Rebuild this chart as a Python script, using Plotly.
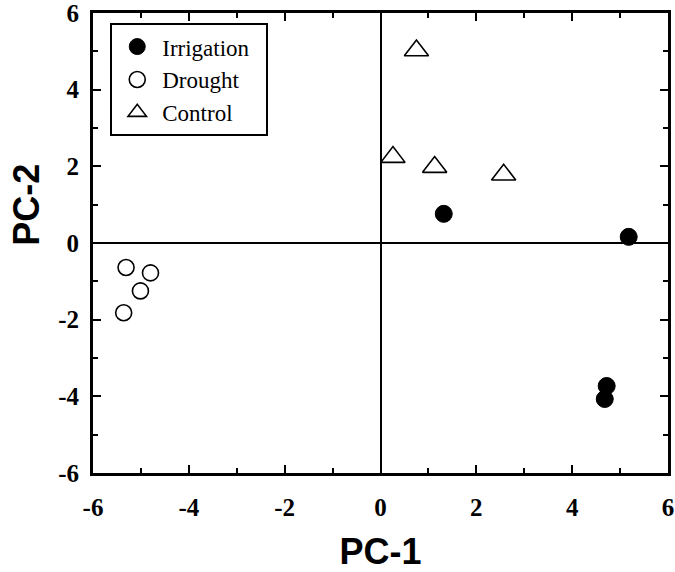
import plotly.graph_objects as go

# PCA scores per treatment
irrigation_pc1 = [1.32, 5.18, 4.72, 4.68]
irrigation_pc2 = [0.76, 0.16, -3.73, -4.07]

drought_pc1 = [-5.31, -4.80, -5.01, -5.36]
drought_pc2 = [-0.64, -0.78, -1.25, -1.82]

control_pc1 = [0.75, 0.26, 1.13, 2.57]
control_pc2 = [5.02, 2.24, 1.98, 1.78]

axis_ticks = [-6, -4, -2, 0, 2, 4, 6]

PAD = "\u00a0\u00a0"  # extra room on the right side of the legend box

fig = go.Figure()

fig.add_trace(go.Scatter(
    x=irrigation_pc1, y=irrigation_pc2, mode="markers", name="Irrigation" + PAD,
    marker=dict(symbol="circle", size=17, color="black", line=dict(color="black", width=1)),
))
fig.add_trace(go.Scatter(
    x=drought_pc1, y=drought_pc2, mode="markers", name="Drought" + PAD,
    marker=dict(symbol="circle", size=16, color="white", line=dict(color="black", width=1.6)),
))
fig.add_trace(go.Scatter(
    x=control_pc1, y=control_pc2, mode="markers", name="Control" + PAD,
    marker=dict(symbol="triangle-up", size=21, color="white", line=dict(color="black", width=1.6)),
))

tick_font = dict(family="Liberation Serif", size=25, color="black", weight="bold")
title_font = dict(family="Liberation Sans", size=36, color="black", weight="bold")

common_axis = dict(
    range=[-6, 6],
    tickvals=axis_ticks,
    ticktext=[str(v) for v in axis_ticks],
    ticks="inside", ticklen=8, tickwidth=2, tickcolor="black",
    minor=dict(ticks="inside", ticklen=5, tickwidth=2, tickcolor="black", dtick=1, tick0=0, showgrid=False),
    showline=True, linewidth=3, linecolor="black", mirror="ticks",
    showgrid=False,
    zeroline=True, zerolinecolor="black", zerolinewidth=2,
    tickfont=tick_font,
    ticklabeloverflow="allow",
    automargin=False,
)

fig.update_xaxes(**common_axis, ticklabelstandoff=10,
                 title=dict(text="PC-1", font=title_font, standoff=22))
fig.update_yaxes(**common_axis, ticklabelstandoff=6)

# y-axis title placed as a rotated annotation, sitting a bit above the axis middle
fig.add_annotation(
    text="PC-2", textangle=-90, showarrow=False,
    xref="paper", yref="paper", x=-0.1148, y=0.583,
    xanchor="center", yanchor="middle",
    font=title_font,
)

fig.update_layout(
    width=675, height=572,
    margin=dict(l=93, r=7, t=13, b=99),
    plot_bgcolor="white", paper_bgcolor="white",
    showlegend=True,
    legend=dict(
        x=0.03, y=0.978, xanchor="left", yanchor="top",
        bgcolor="white", bordercolor="black", borderwidth=2,
        font=dict(family="Liberation Serif", size=23, color="black"),
        itemwidth=40,
    ),
)

fig.write_html("out.html")
